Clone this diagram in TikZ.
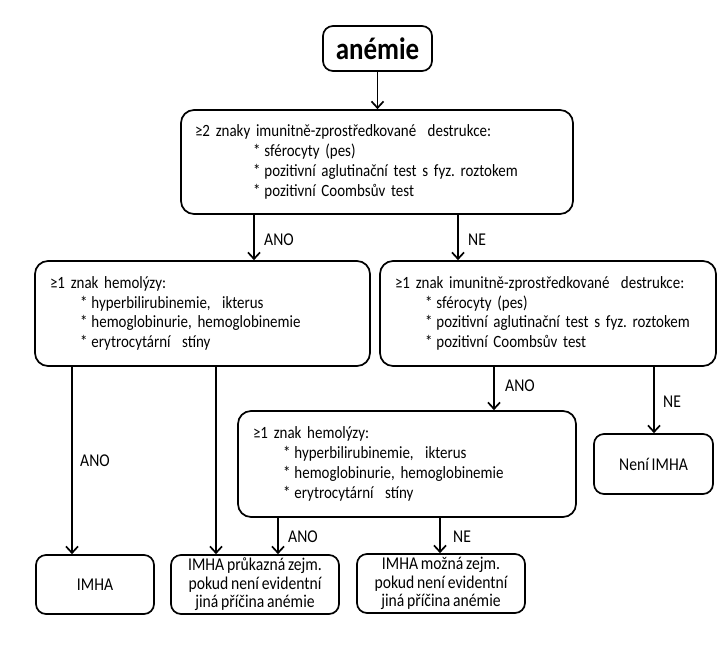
\documentclass[tikz,border=0pt]{standalone}
\usepackage{fontspec}
\setmainfont[FakeStretch=0.87,WordSpace=0.8]{Carlito}
\usetikzlibrary{arrows.meta}
\newcommand\bodyfnt{\fontsize{17.2}{19.8}\selectfont}
\newcommand\leaffnt{\fontsize{18}{18.6}\selectfont}
\newcommand\ind[2]{\mbox{\hspace*{#1}*\hspace{4pt}#2}}
\begin{document}
\frenchspacing
\begin{tikzpicture}[x=1pt,y=-1pt,
  box/.style={draw,line width=1.7pt,rounded corners=13pt,align=left,inner xsep=14pt,inner ysep=0pt,
    font=\bodyfnt},
  leaf/.style={draw,line width=1.7pt,rounded corners=10pt,align=center,inner sep=0pt,
    font=\leaffnt},
  arr/.style={line width=1.7pt,-{Straight Barb[length=6.5pt,width=12pt,line width=1.7pt]}},
  lab/.style={anchor=west,inner sep=0pt,font=\leaffnt}]
\useasboundingbox[fill=white] (0,0) rectangle (720,657);
\node[draw,line width=1.7pt,rounded corners=10pt,inner sep=0pt,minimum width=109pt,minimum height=45pt,font=\fontsize{31}{32}\selectfont\bfseries] (an) at (377.5,48.5) {anémie};
\node[box,text width=364pt,minimum height=104pt] (b1) at (377,162) {\mbox{≥2 znaky imunitně-zprostředkované\ \ destrukce:}\\
\ind{58pt}{sférocyty (pes)}\\
\ind{58pt}{pozitivní aglutinační test s fyz. roztokem}\\
\ind{58pt}{pozitivní Coombsův test}};
\node[box,text width=305pt,minimum height=105pt,inner xsep=15pt] (b2) at (202.5,313.5) {\mbox{≥1 znak hemolýzy:}\\
\ind{30pt}{hyperbilirubinemie,\ \ ikterus}\\
\ind{30pt}{hemoglobinurie, hemoglobinemie}\\
\ind{30pt}{erytrocytární\ \ stíny}};
\node[box,text width=306pt,minimum height=105pt,inner xsep=15pt] (b3) at (548,313.5) {\mbox{≥1 znak imunitně-zprostředkované\ \ destrukce:}\\
\ind{30pt}{sférocyty (pes)}\\
\ind{30pt}{pozitivní aglutinační test s fyz. roztokem}\\
\ind{30pt}{pozitivní Coombsův test}};
\node[box,text width=308pt,minimum height=106pt,inner xsep=15pt] (b4) at (407,464) {\mbox{≥1 znak hemolýzy:}\\
\ind{30pt}{hyperbilirubinemie,\ \ ikterus}\\
\ind{30pt}{hemoglobinurie, hemoglobinemie}\\
\ind{30pt}{erytrocytární\ \ stíny}};
\node[leaf,minimum width=118pt,minimum height=59pt] (imha) at (95,584.5) {IMHA};
\node[leaf,minimum width=168pt,minimum height=59pt] (pru) at (255,584.5) {IMHA průkazná zejm.\\pokud není evidentní\\jiná příčina anémie};
\node[leaf,minimum width=168pt,minimum height=59pt] (moz) at (441,583.5) {IMHA možná zejm.\\pokud není evidentní\\jiná příčina anémie};
\node[leaf,minimum width=119pt,minimum height=60pt] (neni) at (653.5,464) {Není IMHA};
\draw[arr] (an.south) -- (b1.north -| an.south);
\draw[arr] (254,0 |- b1.south) -- (254,0 |- b2.north);
\draw[arr] (458,0 |- b1.south) -- (458,0 |- b3.north);
\draw[arr] (72,0 |- b2.south) -- (72,0 |- imha.north);
\draw[arr] (216,0 |- b2.south) -- (216,0 |- pru.north);
\draw[arr] (494,0 |- b3.south) -- (494,0 |- b4.north);
\draw[arr] (654,0 |- b3.south) -- (654,0 |- neni.north);
\draw[arr] (278,0 |- b4.south) -- (278,0 |- pru.north);
\draw[arr] (440,0 |- b4.south) -- (440,0 |- moz.north);
\node[lab] (l1) at (264,240) {ANO};
\node[lab] (l2) at (468,240) {NE};
\node[lab] (l3) at (80,461) {ANO};
\node[lab] (l4) at (505,386) {ANO};
\node[lab] (l5) at (663,402) {NE};
\node[lab] (l6) at (288,537) {ANO};
\node[lab] (l7) at (453,537) {NE};
\end{tikzpicture}
\end{document}
